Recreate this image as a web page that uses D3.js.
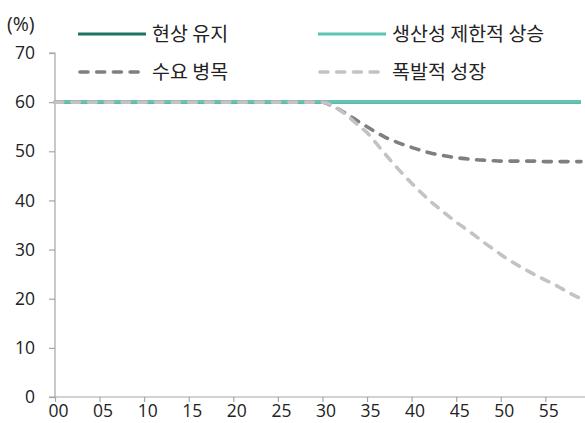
<!DOCTYPE html>
<html>
<head>
<meta charset="utf-8">
<script src="https://cdn.jsdelivr.net/npm/d3@7"></script>
<style>
  html, body { margin: 0; padding: 0; background: #fff; }
  svg { display: block; }
  text { font-family: "Noto Sans CJK KR", "Noto Sans", sans-serif; fill: #222; }
</style>
</head>
<body>
<svg id="chart" width="585" height="423"></svg>
<script>
// Years 2000–2059, shown as two-digit labels
const years = d3.range(0, 60);
const tickYears = [0, 5, 10, 15, 20, 25, 30, 35, 40, 45, 50, 55];
const yTicks = [0, 10, 20, 30, 40, 50, 60, 70];

const seriesNames = ["현상 유지", "생산성 제한적 상승", "수요 병목", "폭발적 성장"];

// Share (%) by year
const statusQuo = years.map(() => 60);
const limitedGrowth = years.map(() => 60);
const demandBottleneck = [
  60, 60, 60, 60, 60, 60, 60, 60, 60, 60,
  60, 60, 60, 60, 60, 60, 60, 60, 60, 60,
  60, 60, 60, 60, 60, 60, 60, 60, 60, 60,
  60, 59.3, 58.4, 57.3, 56.1, 55.0, 53.9, 52.9, 52.1, 51.4,
  50.8, 50.2, 49.7, 49.3, 49.0, 48.7, 48.5, 48.3, 48.2, 48.1,
  48.0, 48.0, 48.0, 48.0, 48.0, 47.9, 47.9, 47.9, 47.9, 47.9
];
const explosiveGrowth = [
  60, 60, 60, 60, 60, 60, 60, 60, 60, 60,
  60, 60, 60, 60, 60, 60, 60, 60, 60, 60,
  60, 60, 60, 60, 60, 60, 60, 60, 60, 60,
  60, 59.4, 58.3, 56.9, 55.3, 53.8, 51.7, 49.5, 47.4, 45.4,
  43.5, 41.7, 40.0, 38.5, 37.0, 35.6, 34.3, 33.0, 31.6, 30.3,
  29.0, 27.8, 26.7, 25.7, 24.7, 23.8, 22.9, 21.9, 20.9, 20.0
];

const series = [
  { name: seriesNames[0], values: statusQuo, color: "#1a7563", dash: null },
  { name: seriesNames[1], values: limitedGrowth, color: "#5cc6b6", dash: null },
  { name: seriesNames[2], values: demandBottleneck, color: "#7f7f7f", dash: "8,8.7" },
  { name: seriesNames[3], values: explosiveGrowth, color: "#c3c3c3", dash: "8,8.7" }
];

const svg = d3.select("#chart");
const x = d3.scaleLinear().domain([0, 59]).range([55, 581]);
const y = d3.scaleLinear().domain([0, 70]).range([397, 53]);
const axisColor = "#a6a6a6";
const numFont = "'Open Sans', 'Noto Sans', sans-serif";

// Y axis
const yAxis = svg.append("g")
  .attr("transform", `translate(${x(0)},0)`)
  .call(d3.axisLeft(y).tickValues(yTicks).tickSize(6).tickPadding(14).tickFormat(d3.format("d")));
yAxis.select(".domain").attr("stroke", axisColor).attr("stroke-width", 1.2).attr("d", `M-6,${y(70)}H0V${y(0)}`);
yAxis.selectAll(".tick line").attr("stroke", axisColor).attr("stroke-width", 1.2);
yAxis.selectAll(".tick text").attr("font-size", 17.5).style("font-family", numFont).attr("fill", "#222");

// X axis
const xAxis = svg.append("g")
  .attr("transform", `translate(0,${y(0)})`)
  .call(d3.axisBottom(x).tickValues(tickYears).tickSize(5).tickPadding(3)
    .tickFormat(d => String(d).padStart(2, "0")));
xAxis.select(".domain").attr("stroke", axisColor).attr("stroke-width", 1.2).attr("d", `M${x(0) - 6},0H585`);
xAxis.selectAll(".tick line").attr("stroke", axisColor).attr("stroke-width", 1.2);
xAxis.selectAll(".tick text").attr("font-size", 17.5).attr("dx", 3).style("font-family", numFont).attr("fill", "#222");

// Unit label
svg.append("text").attr("x", 7).attr("y", 31).attr("font-size", 19.5)
  .style("font-family", numFont).text("(%)");

// Lines
const line = d3.line().x((d, i) => x(years[i])).y(d => y(d)).curve(d3.curveMonotoneX);
svg.append("g").selectAll("path").data(series).join("path")
  .attr("d", d => line(d.values))
  .attr("fill", "none")
  .attr("stroke", d => d.color)
  .attr("stroke-width", d => d.dash ? 3.6 : 3.2)
  .attr("stroke-linecap", d => d.dash ? "round" : "butt")
  .attr("stroke-dasharray", d => d.dash);

// Legend
const legendPos = [
  { lx: 78, ly: 34 }, { lx: 318, ly: 34 },
  { lx: 78, ly: 72 }, { lx: 318, ly: 72 }
];
const legend = svg.append("g").selectAll("g").data(series).join("g")
  .attr("transform", (d, i) => `translate(${legendPos[i].lx},${legendPos[i].ly})`);
legend.append("line")
  .attr("x1", d => d.dash ? 2 : 0).attr("x2", d => d.dash ? 66 : 68)
  .attr("stroke", d => d.color).attr("stroke-width", d => d.dash ? 3.6 : 3.2)
  .attr("stroke-linecap", d => d.dash ? "round" : "butt")
  .attr("stroke-dasharray", d => d.dash);
legend.append("text").attr("x", 74).attr("dy", "0.38em").attr("font-size", 19.5)
  .text(d => d.name);
</script>
</body>
</html>
